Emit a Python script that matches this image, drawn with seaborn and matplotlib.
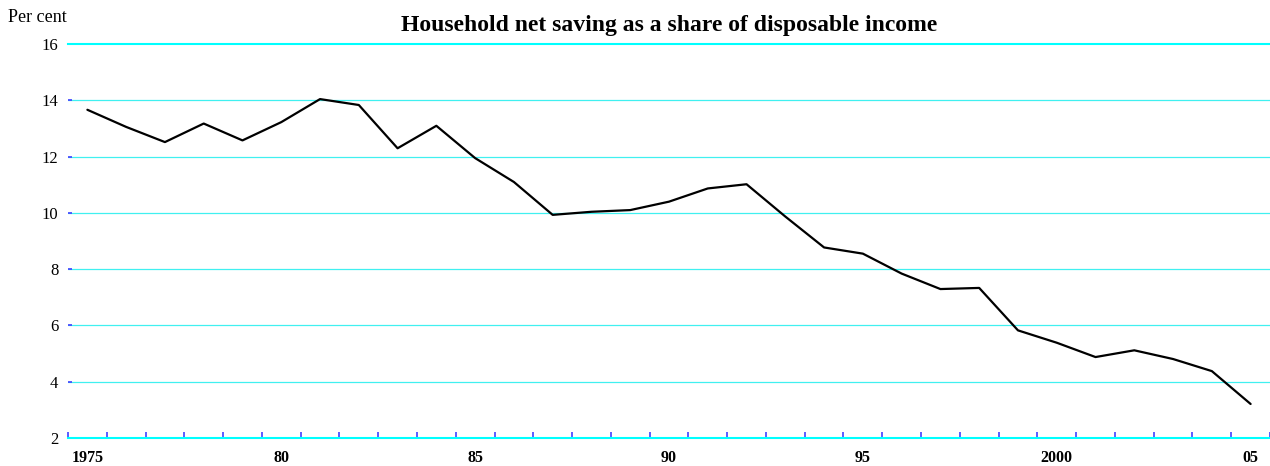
import matplotlib
matplotlib.use("Agg")
import matplotlib.pyplot as plt
import seaborn as sns
import pandas as pd
import numpy as np

years = list(range(1975, 2006))
saving = [13.67, 13.06, 12.52, 13.18, 12.58, 13.23, 14.05, 13.84, 12.30, 13.10,
          11.95, 11.10, 9.93, 10.04, 10.10, 10.40, 10.87, 11.02, 9.87, 8.77,
          8.55, 7.84, 7.29, 7.33, 5.82, 5.38, 4.87, 5.11, 4.80, 4.37, 3.20]
label_years = [1975, 1980, 1985, 1990, 1995, 2000, 2005]
label_texts = ["1975", "80", "85", "90", "95", "2000", "05"]
y_ticks = [2, 4, 6, 8, 10, 12, 14, 16]

df = pd.DataFrame({"year": years, "saving": saving})

sns.set_style("white")
plt.rcParams["font.family"] = ["Liberation Serif", "DejaVu Serif"]
plt.rcParams["text.color"] = "black"
plt.rcParams["xtick.color"] = "black"
plt.rcParams["ytick.color"] = "black"

fig = plt.figure(figsize=(12.7, 4.66), dpi=100)
ax = fig.add_axes([68 / 1270, 28.3 / 466, (1270 - 68) / 1270, (437.7 - 44.3) / 466])

sns.lineplot(data=df, x="year", y="saving", ax=ax, color="black", linewidth=1.6)

ax.set_xlim(years[0] - 0.5, years[-1] + 0.5)
ax.set_ylim(2, 16)
ax.set_yticks(y_ticks)
ax.set_yticklabels([str(v) for v in y_ticks], fontsize=12)
ax.set_xticks(label_years)
ax.set_xticklabels(label_texts, fontsize=11.5, fontweight="bold")
ax.set_xticks(np.arange(years[0] - 0.5, years[-1] + 1.0, 1.0), minor=True)
ax.tick_params(axis="x", which="major", bottom=True, length=0, pad=9, labelcolor="black")
ax.tick_params(axis="x", which="minor", bottom=True, direction="in", length=4, width=1.2, color="#4040ff")
ax.tick_params(axis="y", which="major", left=True, direction="in", length=3, width=1.2,
               color="#4040ff", pad=7, labelcolor="black")

for v in y_ticks[1:-1]:
    ax.axhline(v, color="#40f0f0", linewidth=0.9, zorder=0)

for s in ["left", "right"]:
    ax.spines[s].set_visible(False)
ax.spines["top"].set_color("#00ffff")
ax.spines["top"].set_linewidth(1.5)
ax.spines["bottom"].set_color("#00ffff")
ax.spines["bottom"].set_linewidth(1.5)

ax.set_xlabel("")
ax.set_ylabel("")
ax.grid(False)

fig.text(0.5 * (68 + 1270) / 1270, 1 - 25 / 466, "Household net saving as a share of disposable income",
         ha="center", va="center", fontsize=17, fontweight="bold", color="black")
fig.text(8 / 1270, 1 - 18 / 466, "Per cent", ha="left", va="center", fontsize=13, color="black")

fig.savefig("out.png", dpi=100)
